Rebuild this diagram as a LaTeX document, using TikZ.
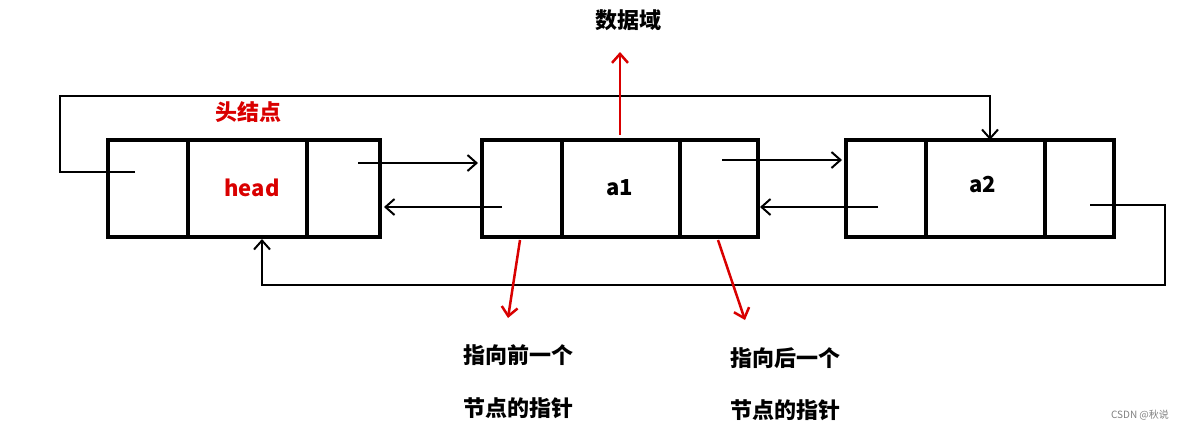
\documentclass[tikz,border=0pt]{standalone}
\usepackage{fontspec}
\setmainfont{Noto Sans CJK SC}
\usetikzlibrary{arrows.meta}
\begin{document}
\begin{tikzpicture}[x=1pt,y=-1pt,
  box/.style={line width=4pt},
  conn/.style={line width=2pt,-{Straight Barb[length=9pt,width=16pt]}},
  line/.style={line width=2pt},
  red arrow/.style={line width=2.5pt,red!85!black,-{Straight Barb[length=9pt,width=16pt]}},
  lbl/.style={font=\fontsize{22}{26}\selectfont\bfseries},
  every node/.style={inner sep=0pt}]
\useasboundingbox (0,0) rectangle (1189,429);
% boxes
\draw[box] (108,140) rectangle (380,237); \draw[box] (188,140)--(188,237); \draw[box] (307,140)--(307,237);
\draw[box] (482,140) rectangle (758,237); \draw[box] (562,140)--(562,237); \draw[box] (680,140)--(680,237);
\draw[box] (846,140) rectangle (1114,237); \draw[box] (926,140)--(926,237); \draw[box] (1045,140)--(1045,237);
% named points
\coordinate (h1) at (358,163); \coordinate (a1in) at (478,163);
\coordinate (a1p) at (502,207); \coordinate (hin) at (384,207);
\coordinate (a1n) at (722,160); \coordinate (a2in) at (842,160);
\coordinate (a2p) at (878,207); \coordinate (a1in2) at (760,207);
\coordinate (hp) at (135,172); \coordinate (a2top) at (990,140);
\coordinate (a2n) at (1090,205); \coordinate (hbot) at (262,239);
\draw[conn] (h1)--(a1in);
\draw[conn] (a1p)--(hin);
\draw[conn] (a1n)--(a2in);
\draw[conn] (a2p)--(a1in2);
\draw[conn] (hp)--(60,172)--(60,96)--(990,96)--(a2top);
\draw[conn] (a2n)--(1165,205)--(1165,285)--(262,285)--(hbot);
% texts
\node[lbl] (data) at (628,20) {数据域};
\node[lbl,red!85!black] (hn) at (248,112) {头结点};
\node[lbl,red!85!black] (head) at (252,188) {head};
\node[lbl] (a1) at (620,188) {a1};
\node[lbl] (a2) at (983,185) {a2};
\node[lbl] (p1) at (518,355) {指向前一个};
\node[lbl] (p2) at (518,408) {节点的指针};
\node[lbl] (n1) at (785,358) {指向后一个};
\node[lbl] (n2) at (785,410) {节点的指针};
\node[font=\fontsize{10}{12}\selectfont,gray] (wm) at (1140,415) {CSDN @秋说};
\coordinate (r1) at (620,135); \coordinate (r2) at (520,240); \coordinate (r3) at (718,240);
\draw[red arrow] (r1)--(620,52);
\draw[red arrow] (r2)--(508,318);
\draw[red arrow] (r3)--(745,320);
\end{tikzpicture}
\end{document}
